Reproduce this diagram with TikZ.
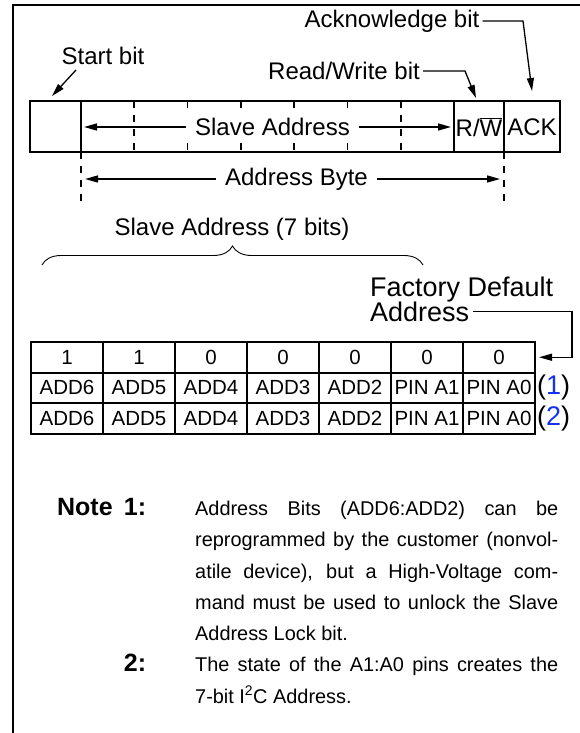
\documentclass[tikz,border=0pt]{standalone}
\usepackage{fontspec}
\setmainfont{Liberation Sans}
\usetikzlibrary{arrows.meta,decorations.pathreplacing,calc}
\definecolor{refblue}{RGB}{20,50,240}
\newcommand{\notelbl}[1]{\makebox[158pt][l]{\makebox[109pt][r]{\fontsize{25}{31.3}\selectfont\bfseries #1}}}
\begin{document}
\begin{tikzpicture}[x=1pt,y=-1pt,
  lbl/.style={font=\fontsize{24}{27}\selectfont, inner sep=0pt},
  biglbl/.style={font=\fontsize{27}{30}\selectfont, inner sep=0pt},
  celltxt/.style={draw, line width=2pt, minimum width=72pt, minimum height=30.5pt, inner sep=0pt, font=\fontsize{20.5}{22}\selectfont},
  arr/.style={line width=1.3pt, -{Triangle[length=13pt,width=7pt]}},
  framel/.style={line width=2.5pt},
  boxl/.style={line width=2pt},
  dashl/.style={line width=1.8pt, dash pattern=on 7pt off 7pt},
]
\useasboundingbox (0,0) rectangle (580,733);
\draw[framel] (580,5) -- (13,5) -- (13,733);

% top labels
\node[lbl] (ack) at (392,21) {Acknowledge bit};
\node[lbl] (start) at (103,56) {Start bit};
\node[lbl] (rw) at (344,71) {Read/Write bit};

% address frame
\draw[boxl] (30,101) rectangle (560,152);
\foreach \x in {81,454,504} \draw[boxl] (\x,101) -- (\x,152);
\foreach \i in {1,...,6} \draw[dashl] ({81+\i*53.29},101) -- ({81+\i*53.29},152);

\node[lbl, inner xsep=9pt, inner ysep=5pt, fill=white] (sa) at (272.5,127) {Slave Address};
\node[lbl] (rwc) at (479,127) {R/$\overline{\mbox{W}}$};
\node[lbl] (ackc) at (532,127) {ACK};
\coordinate (saL) at (84,127);
\coordinate (saR) at (451,127);
\draw[arr] (sa) -- (saL);
\draw[arr] (sa) -- (saR);

% address byte
\draw[dashl] (81,152) -- (81,205);
\draw[dashl] (504,152) -- (504,205);
\node[lbl, inner xsep=9pt] (ab) at (296.5,179) {Address Byte};
\coordinate (abL) at (85,179);
\coordinate (abR) at (500,179);
\draw[arr] (ab) -- (abL);
\draw[arr] (ab) -- (abR);

% pointer arrows
\coordinate (sfrom) at (76,70);
\coordinate (stip) at (52,96);
\draw[arr] (sfrom) -- (stip);
\coordinate (rwk) at (465,71);
\coordinate (rwtip) at (476,98);
\draw[arr] ([xshift=3pt]rw.east) -- (rwk) -- (rwtip);
\coordinate (ackk) at (523,21);
\coordinate (acktip) at (532,91);
\draw[arr] ([xshift=3pt]ack.east) -- (ackk) -- (acktip);

% brace
\node[lbl] (sa7) at (232,229) {Slave Address (7 bits)};
\draw[line width=0.9pt, decorate, decoration={brace, amplitude=19pt}] (42,265) -- (423,265);

% factory default
\node[biglbl, anchor=base west] (fd1) at (370,296) {Factory Default};
\node[biglbl, anchor=base west] (fd2) at (370,321) {Address};

% table
\foreach \c/\t in {1/1,2/1,3/0,4/0,5/0,6/0,7/0}
  \node[celltxt] (r1c\c) at ({31+72*(\c-0.5)},357.25) {\t};
\foreach \c/\t in {1/ADD6,2/ADD5,3/ADD4,4/ADD3,5/ADD2,6/PIN A1,7/PIN A0}
  \node[celltxt] (r2c\c) at ({31+72*(\c-0.5)},387.75) {\t};
\foreach \c/\t in {1/ADD6,2/ADD5,3/ADD4,4/ADD3,5/ADD2,6/PIN A1,7/PIN A0}
  \node[celltxt] (r3c\c) at ({31+72*(\c-0.5)},418.25) {\t};

\coordinate (fdx) at (572,0);
\draw[arr] ([xshift=4pt]fd2.east) -- (fd2.east -| fdx) -- (fdx |- r1c7.east) -- ([xshift=3pt]r1c7.east);

\node[font=\fontsize{27}{29}\selectfont, inner sep=0pt, anchor=west] (n1) at (537,387.75) {(\textcolor{refblue}{1})};
\node[font=\fontsize{27}{29}\selectfont, inner sep=0pt, anchor=west] (n2) at (537,418.25) {(\textcolor{refblue}{2})};

% notes
\node[anchor=north west, inner sep=0pt, text width=521pt, align=justify, font=\fontsize{19.9}{31.3}\selectfont] (notes) at (37,498) {%
\tolerance=10000\hyphenpenalty=10000
\hangindent=158pt\hangafter=1\noindent\notelbl{Note\hspace{0.45em}1:}Address Bits (ADD6:ADD2) can be\linebreak reprogrammed by the customer (nonvol-\linebreak atile device), but a High-Voltage com-\linebreak mand must be used to unlock the Slave\linebreak Address Lock bit.\par
\hangindent=158pt\hangafter=1\noindent\notelbl{2:}The state of the A1:A0 pins creates the\linebreak 7-bit I\textsuperscript{2}C Address.\par};
\end{tikzpicture}
\end{document}
